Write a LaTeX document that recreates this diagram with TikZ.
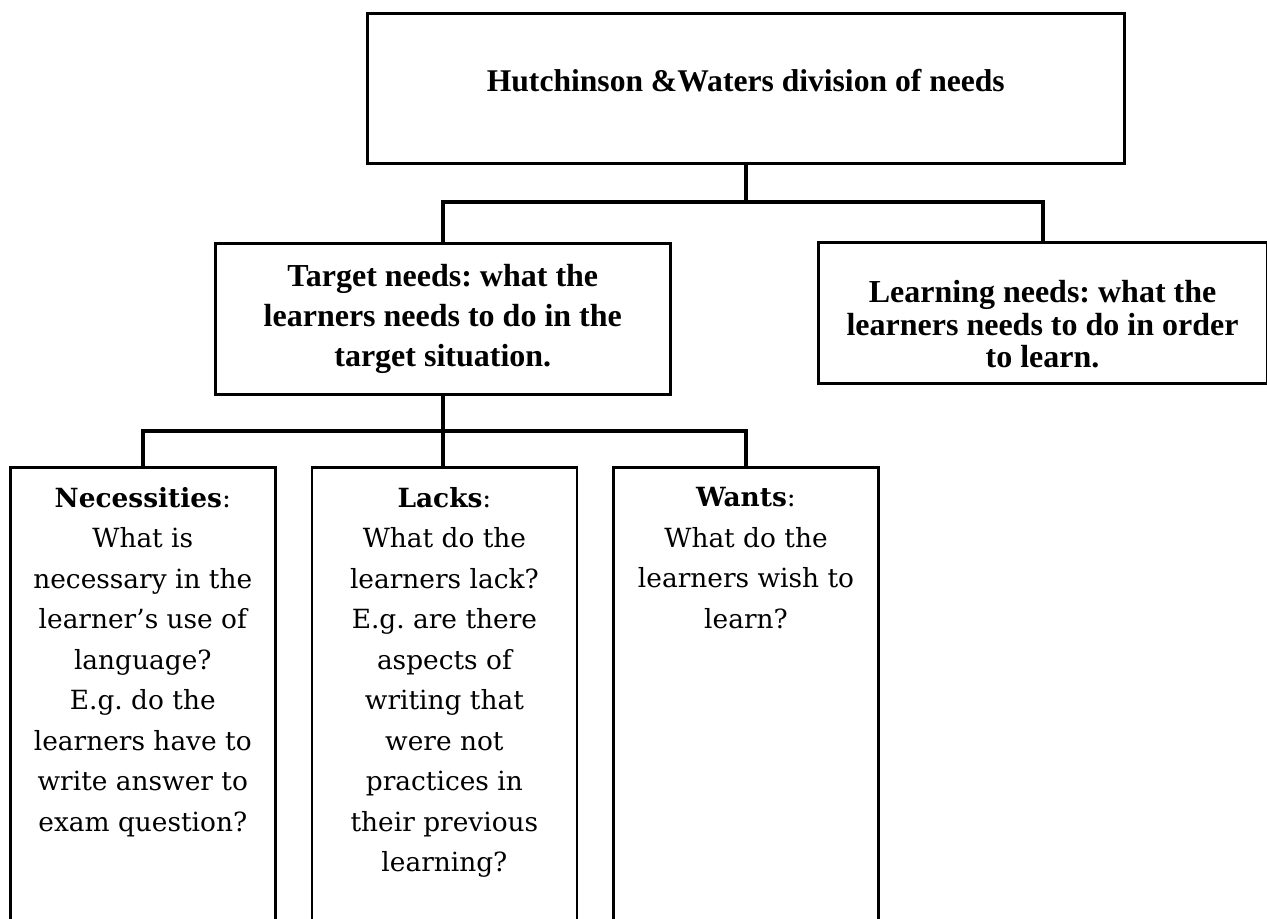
\documentclass[tikz,border=0pt]{standalone}
\usepackage{fontspec}
\setmainfont{DejaVu Serif}
\newfontfamily\headfont{Liberation Serif}
\frenchspacing
\usetikzlibrary{positioning}
\tikzstyle{headbox} = [rectangle, draw=black, line width=1.3pt, inner sep=0pt, anchor=north west, font=\headfont\bfseries]
\tikzstyle{needbox} = [rectangle, draw=black, line width=1.3pt, inner sep=0pt, anchor=north west]
\tikzstyle{connector} = [line width=2pt]

\begin{document}
\begin{tikzpicture}[x=0.5pt, y=-0.5pt]
		\useasboundingbox (0,0) rectangle (1267,918);

		\node (Title) [headbox] at (366,12) {\parbox[c][75pt][t]{378.5pt}{\centering\fontsize{15.8pt}{20pt}\selectfont\vspace*{28pt}Hutchinson \&Waters division of needs}};
		\node (Target) [headbox] at (214,242) {\parbox[c][75.5pt][t]{227.5pt}{\centering\fontsize{16pt}{20pt}\selectfont\vspace*{10.5pt}Target needs: what the\\learners needs to do in the\\target situation.}};
		\node (Learning) [headbox] at (817,241) {\parbox[c][70.5pt][t]{224.25pt}{\centering\fontsize{16pt}{16.35pt}\selectfont\vspace*{19pt}Learning needs: what the\\learners needs to do in order\\to learn.}};

		\node (Necessities) [needbox] at (9,466) {\parbox[c][232pt][t]{132.5pt}{\centering\fontsize{13.2pt}{20.25pt}\selectfont\vspace*{10pt}\textbf{Necessities}:\\What is\\necessary in the\\learner’s use of\\language?\\E.g. do the\\learners have to\\write answer to\\exam question?}};
		\node (Lacks) [needbox, right = 17pt of Necessities] {\parbox[c][232pt][t]{132.5pt}{\centering\fontsize{13.2pt}{20.25pt}\selectfont\vspace*{10pt}\textbf{Lacks}:\\What do the\\learners lack?\\E.g. are there\\aspects of\\writing that\\were not\\practices in\\their previous\\learning?}};
		\node (Wants) [needbox, right = 17pt of Lacks] {\parbox[c][232pt][t]{132.5pt}{\centering\fontsize{13.2pt}{20.25pt}\selectfont\vspace*{10pt}\textbf{Wants}:\\What do the\\learners wish to\\learn?}};

		\draw [connector] (Title.south) -- ++(0,37) coordinate (TopFork);
		\draw [connector] (Target.north) |- (TopFork) -| (Learning.north);
		\draw [connector] (Target.south) -- ++(0,35) coordinate (LowFork);
		\draw [connector] (Necessities.north) |- (LowFork) -| (Wants.north);
		\draw [connector] (LowFork) -- (LowFork |- Lacks.north);
	\end{tikzpicture}
\end{document}
